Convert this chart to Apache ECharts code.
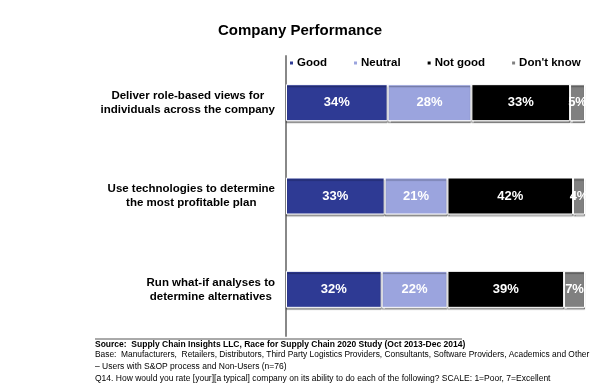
<!DOCTYPE html>
<html><head><meta charset="utf-8">
<script src="https://cdn.jsdelivr.net/npm/echarts@6/dist/echarts.min.js"></script>
<style>html,body{margin:0;padding:0;background:#fff}#c{width:600px;height:386px}</style>
</head><body><div id="c"></div>
<script>
const categories = [
  "Deliver role-based views for\nindividuals across the company",
  "Use technologies to determine\nthe most profitable plan",
  "Run what-if analyses to\ndetermine alternatives"
];
const seriesNames = ["Good", "Neutral", "Not good", "Don't know"];
const good = [34, 33, 32];
const neutral = [28, 21, 22];
const notGood = [33, 42, 39];
const dontKnow = [5, 4, 7];
const colors = ["#2E3A94", "#9BA4DE", "#000000", "#808080"];
const titleText = "Company Performance";
const footerLines = [
  "Source:  Supply Chain Insights LLC, Race for Supply Chain 2020 Study (Oct 2013-Dec 2014)",
  "Base:  Manufacturers,  Retailers, Distributors, Third Party Logistics Providers, Consultants, Software Providers, Academics and Other",
  "\u2013 Users with S&OP process and Non-Users (n=76)",
  "Q14. How would you rate [your][a typical] company on its ability to do each of the following? SCALE: 1=Poor, 7=Excellent"
];

const F = '"Liberation Sans", Arial, sans-serif';
const values = [good, neutral, notGood, dontKnow];
const chart = echarts.init(document.getElementById('c'));
chart.setOption({
  animation: false,
  title: {text: titleText, left: 'center', top: 18, textStyle: {fontFamily: F, fontSize: 15, fontWeight: 'bold', color: '#000'}},
  legend: {
    data: seriesNames, top: 52, left: 283, width: 317, itemWidth: 5, itemHeight: 5, itemGap: 25, icon: 'rect',
    textStyle: {fontFamily: F, fontSize: 11.5, fontWeight: 'bold', color: '#000', padding: [0, 0, 0, -2]}
  },
  grid: {left: 286, right: 15, top: 56, bottom: 50},
  xAxis: {type: 'value', min: 0, max: 100, show: false},
  yAxis: {
    type: 'category', data: categories, inverse: true,
    axisLine: {lineStyle: {color: '#888', width: 2}}, axisTick: {show: false},
    axisLabel: {
      margin: 11, align: 'right',
      formatter: v => v.split('\n').map(s => '{a|' + s + '}').join('\n'),
      rich: {a: {fontFamily: F, fontSize: 11.5, fontWeight: 'bold', color: '#000', align: 'center', lineHeight: 14}}
    }
  },
  series: seriesNames.map((n, i) => ({
    name: n, type: 'bar', stack: 'total', barWidth: 37, data: values[i],
    itemStyle: {color: colors[i], borderColor: '#fff', borderWidth: 1, shadowColor: 'rgba(0,0,0,0.35)', shadowOffsetY: 2, shadowBlur: 1},
    label: {show: true, position: 'inside', formatter: '{c}%', color: '#fff', fontFamily: F, fontSize: 13, fontWeight: 'bold'}
  })),
  graphic: [
    {type: 'line', shape: {x1: 95, y1: 339, x2: 462, y2: 339}, style: {stroke: '#555', lineWidth: 1}},
    {type: 'text', left: 95, top: 340, style: {text: footerLines[0], font: 'bold 8.5px ' + F, fill: '#000'}},
    {type: 'text', left: 95, top: 351, style: {text: footerLines[1], font: '8.4px ' + F, fill: '#000'}},
    {type: 'text', left: 95, top: 362, style: {text: footerLines[2], font: '8.5px ' + F, fill: '#000'}},
    {type: 'text', left: 95, top: 374, style: {text: footerLines[3], font: '8.5px ' + F, fill: '#000'}}
  ]
});
</script></body></html>
